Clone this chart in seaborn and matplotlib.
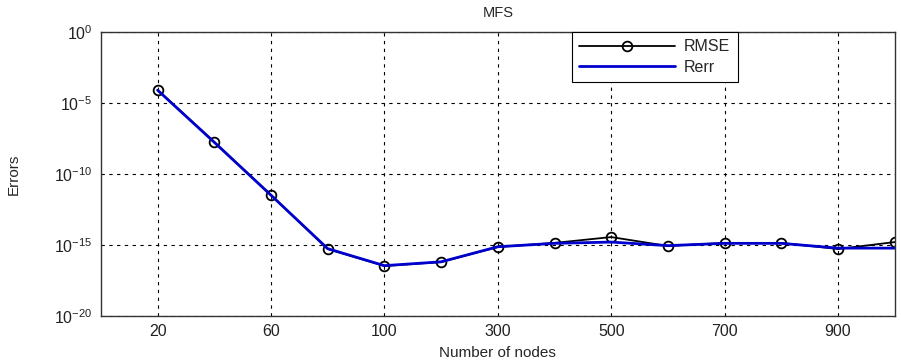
import matplotlib
matplotlib.use("Agg")
import matplotlib.pyplot as plt
import matplotlib.ticker as mticker
import numpy as np
import pandas as pd
import seaborn as sns

# data (x is the node count, plotted by index)
nodes = [20, 40, 60, 80, 100, 200, 300, 400, 500, 600, 700, 800, 900, 1000]
rmse = [8.3e-5, 1.8e-8, 3.3e-12, 5.2e-16, 3.3e-17, 6.3e-17, 7.2e-16,
        1.4e-15, 3.6e-15, 8.5e-16, 1.4e-15, 1.4e-15, 5.2e-16, 1.6e-15]
rerr = [8.0e-5, 1.7e-8, 3.2e-12, 5.5e-16, 3.5e-17, 6.5e-17, 7.5e-16,
        1.3e-15, 1.6e-15, 9.0e-16, 1.3e-15, 1.3e-15, 6.0e-16, 6.0e-16]
tick_labels = ["20", "60", "100", "300", "500", "700", "900"]

pos = np.arange(1, len(nodes) + 1)
df = pd.DataFrame({"pos": pos, "RMSE": rmse, "Rerr": rerr})

sns.set_theme(style="white")
plt.rcParams["font.family"] = ["Liberation Sans", "DejaVu Sans"]

fig = plt.figure(figsize=(9.01, 3.64), dpi=100)
ax = fig.add_axes([0.112, 0.132, 0.881, 0.780])

sns.lineplot(data=df, x="pos", y="RMSE", ax=ax, color="black", linewidth=1.3,
             marker="o", markersize=7, markerfacecolor="none",
             markeredgecolor="black", markeredgewidth=1.3, label="RMSE")
sns.lineplot(data=df, x="pos", y="Rerr", ax=ax, color="#0000cd",
             linewidth=2.0, label="Rerr")

ax.set_yscale("log")
ax.set_ylim(1e-20, 1e0)
ax.set_xlim(0, 14)
ax.set_yticks([1e0, 1e-5, 1e-10, 1e-15, 1e-20])
ax.yaxis.set_minor_locator(mticker.NullLocator())
ax.set_xticks(pos[::2])
ax.set_xticklabels(tick_labels)

ax.grid(True, which="major", color="black", linestyle=(0, (3, 4)), linewidth=0.8)
ax.tick_params(direction="in", length=4, labelsize=11.5, colors="#222222",
               top=False, right=False, pad=6)
for s in ax.spines.values():
    s.set_color("#333333")
    s.set_linewidth(1.0)

ax.set_title("MFS", fontsize=10.5, pad=11)
ax.set_xlabel("Number of nodes", fontsize=11, labelpad=5)
ax.set_ylabel("Errors", fontsize=11, labelpad=24)

leg = ax.legend(loc="upper left", bbox_to_anchor=(0.593, 1.0), borderaxespad=0,
                fancybox=False, framealpha=1, edgecolor="black",
                handlelength=6.0, handletextpad=0.6, fontsize=11.5,
                borderpad=0.45, labelspacing=0.35)
leg.get_frame().set_linewidth(0.8)

fig.savefig("out.png", dpi=100)
